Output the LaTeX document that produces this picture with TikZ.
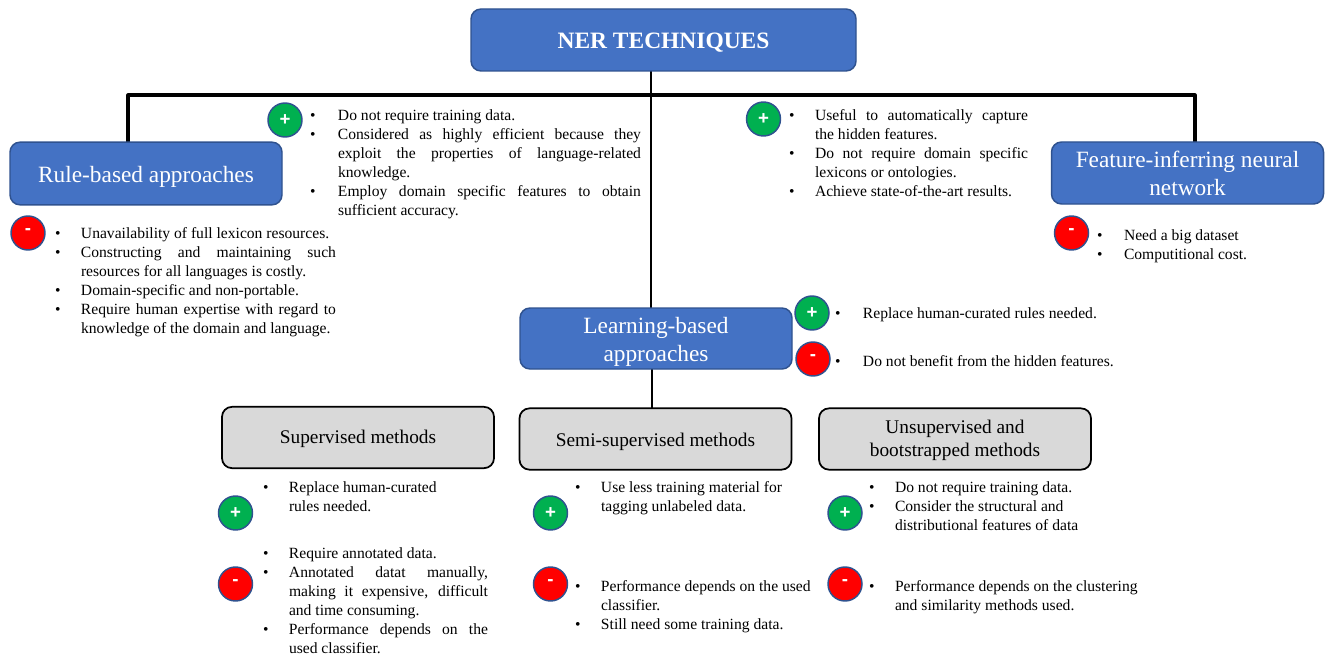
\documentclass[tikz,border=0pt]{standalone}
\usepackage{fontspec}
\setmainfont{Liberation Serif}
\newfontfamily\signfont{Liberation Sans}
\definecolor{boxblue}{HTML}{4472C4}
\definecolor{edgeblue}{HTML}{2F528F}
\definecolor{boxgray}{HTML}{D9D9D9}
\definecolor{plusgreen}{HTML}{00B050}
\newlength\lstind
\newlength\lstw
\newlength\pxu
\setlength\pxu{0.75pt}
\newcommand\lstbul{\hbox to\lstind{•\hfil}}
\newcommand\Bp[1]{\lstbul #1}
\newcommand\Bj[1]{\lstbul\makebox[\lstw][s]{#1}}
\newcommand\Cp[1]{\hspace*{\lstind}#1}
\newcommand\Cj[1]{\hspace*{\lstind}\makebox[\lstw][s]{#1}}
\newcommand\lst[6]{\global\lstind=#4\pxu\global\lstw=#5\pxu\node[listbox] (#1) at (#2,#3) {#6};}
\newcommand\mns{\raisebox{1.5pt}{-}}
\tikzset{
  x=0.75pt,y=-0.75pt,
  blueb/.style={draw=edgeblue,line width=1.1pt,fill=boxblue,rounded corners=7.5pt,text=white,align=center,inner sep=0pt,outer sep=0pt,minimum width=204pt},
  grayb/.style={draw=black,line width=1.3pt,fill=boxgray,rounded corners=7.5pt,text=black,align=center,inner sep=0pt,outer sep=0pt,minimum width=204pt,minimum height=46pt,font=\fontsize{14.5pt}{17.5pt}\selectfont},
  big/.style={font=\fontsize{17.5pt}{21pt}\selectfont},
  sign/.style={circle,draw=edgeblue,line width=1.1pt,minimum size=25.5pt,inner sep=0pt,text=white,font=\signfont\bfseries\fontsize{14pt}{14pt}\selectfont},
  plus/.style={sign,fill=plusgreen},
  minus/.style={sign,fill=red},
  listbox/.style={anchor=north west,inner sep=0pt,outer sep=0pt,align=left,font=\fontsize{11.7pt}{14.25pt}\selectfont},
  conn/.style={draw=black,line width=2.3pt,line cap=round,line join=round},
  conn2/.style={draw=black,line width=1.9pt}
}
\begin{document}
\begin{tikzpicture}
\useasboundingbox (0,0) rectangle (1330,656);
\coordinate (jc) at (651,95);
\coordinate (jl) at (128,95);
\coordinate (jr) at (1195,95);
\coordinate (nerout) at (651,71);
\coordinate (learnin) at (651,308);
\coordinate (rulein) at (128,143);
\coordinate (featin) at (1195,143);
\coordinate (learnout) at (652,369);
\coordinate (semiin) at (652,408);
\draw[conn] (rulein) -- (jl) -- (jr) -- (featin);
\draw[conn2] (nerout) -- (learnin);
\draw[conn2] (learnout) -- (semiin);
% blue boxes
\node[blueb,minimum width=288.75pt,minimum height=46.5pt,font=\bfseries\fontsize{17.6pt}{20pt}\selectfont] (ner) at (663.5,40) {\rule{0pt}{16pt}NER TECHNIQUES};
\node[blueb,big,minimum height=47pt] (rule) at (146,173.5) {\rule{0pt}{16.5pt}Rule-based approaches};
\node[blueb,big,minimum height=46.5pt] (feat) at (1187.5,173) {Feature-inferring neural\\network};
\node[blueb,big,minimum height=45.75pt] (learn) at (656,338.5) {\rule{0pt}{16.5pt}Learning-based\\approaches};
% gray boxes
\node[grayb] (sup) at (358,437.5) {\rule{0pt}{12pt}Supervised methods};
\node[grayb] (semi) at (655.5,439) {\rule{0pt}{14pt}Semi-supervised methods};
\node[grayb] (unsup) at (955,439) {\rule{0pt}{12.5pt}Unsupervised and\\bootstrapped methods};
% signs
\node[plus] (p1) at (285,120) {+};
\node[minus] (m1) at (28,233) {\mns};
\node[plus] (p2) at (763.5,119) {+};
\node[minus] (m2) at (1071.5,233) {\mns};
\node[plus] (p3) at (812,313) {+};
\node[minus] (m3) at (813,359) {\mns};
\node[plus] (p4) at (235.5,513) {+};
\node[minus] (m4) at (235.5,584) {\mns};
\node[plus] (p5) at (550.5,513) {+};
\node[minus] (m5) at (550.5,584) {\mns};
\node[plus] (p6) at (845,513) {+};
\node[minus] (m6) at (845,584) {\mns};
% lists
\lst{l1}{310}{110}{28}{303}{\Bp{Do not require training data.}\\
\Bj{Considered as highly efficient because they}\\
\Cj{exploit the properties of language-related}\\
\Cp{knowledge.}\\
\Bj{Employ domain specific features to obtain}\\
\Cp{sufficient accuracy.}}
\lst{l2}{55}{228}{26}{255}{\Bp{Unavailability of full lexicon resources.}\\
\Bj{Constructing and maintaining such}\\
\Cp{resources for all languages is costly.}\\
\Bp{Domain-specific and non-portable.}\\
\Bj{Require human expertise with regard to}\\
\Cp{knowledge of the domain and language.}}
\lst{l3}{789}{110}{26}{213}{\Bj{Useful to automatically capture}\\
\Cp{the hidden features.}\\
\Bj{Do not require domain specific}\\
\Cp{lexicons or ontologies.}\\
\Bp{Achieve state-of-the-art results.}}
\lst{l4}{1097}{230}{27}{120}{\Bp{Need a big dataset}\\
\Bp{Computitional cost.}}
\lst{l5}{835}{308}{28}{230}{\Bp{Replace human-curated rules needed.}}
\lst{l6}{835}{356}{28}{250}{\Bp{Do not benefit from the hidden features.}}
\lst{l7}{263}{482}{26}{199}{\Bp{Replace human-curated}\\
\Cp{rules needed.}}
\lst{l8}{263}{548}{26}{199}{\Bp{Require annotated data.}\\
\Bj{Annotated datat manually,}\\
\Cj{making it expensive, difficult}\\
\Cp{and time consuming.}\\
\Bj{Performance depends on the}\\
\Cp{used classifier.}}
\lst{l9}{575}{482}{26}{199}{\Bp{Use less training material for}\\
\Cp{tagging unlabeled data.}}
\lst{l10}{575}{581}{26}{215}{\Bp{Performance depends on the used}\\
\Cp{classifier.}\\
\Bp{Still need some training data.}}
\lst{l11}{869}{482}{26}{215}{\Bp{Do not require training data.}\\
\Bp{Consider the structural and}\\
\Cp{distributional features of data}}
\lst{l12}{869}{581}{26}{250}{\Bp{Performance depends on the clustering}\\
\Cp{and similarity methods used.}}
\end{tikzpicture}
\end{document}
